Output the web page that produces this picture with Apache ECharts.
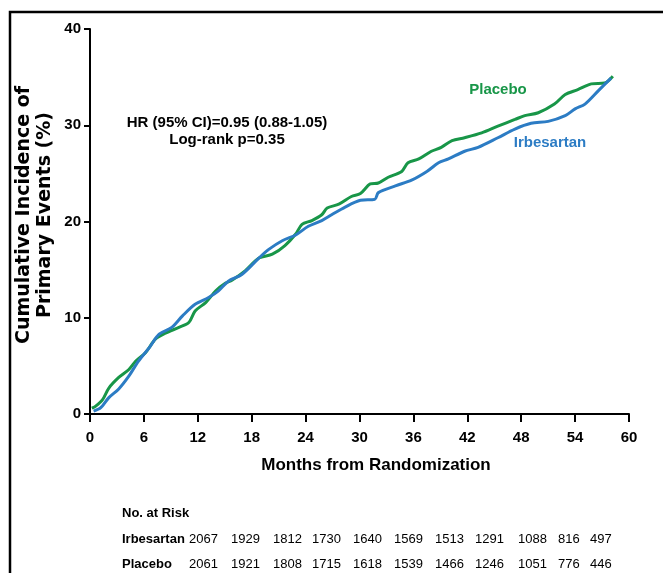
<!DOCTYPE html>
<html>
<head>
<meta charset="utf-8">
<script src="https://cdn.jsdelivr.net/npm/echarts@6/dist/echarts.min.js"></script>
<style>
  html, body { margin: 0; padding: 0; background: #fff; }
  #chart { width: 663px; height: 573px; }
</style>
</head>
<body>
<div id="chart"></div>
<script>
// x ticks
var monthTicks = [0, 6, 12, 18, 24, 30, 36, 42, 48, 54, 60];

// Placebo curve (months, cumulative %)
var placeboMonths = [0.2, 0.6, 1.4, 2.1, 3.2, 4.3, 5.1, 6.2, 7.3, 8.4, 9.9, 11, 11.7, 12.9, 14, 15.1, 15.8, 17.3, 18.8, 20.3, 21.7, 22.9, 23.6, 24.7, 25.8, 26.4, 27.7, 29.1, 30.1, 31.2, 32.1, 33.2, 34.7, 35.4, 36.6, 38, 39.1, 40.3, 41.7, 43.6, 45.4, 47.3, 48.4, 49.9, 51.7, 52.9, 54.3, 55.8, 57.3, 58.2];
var placeboValues = [0.6, 0.8, 1.5, 2.7, 3.8, 4.6, 5.5, 6.4, 7.8, 8.4, 9.0, 9.5, 10.7, 11.6, 12.8, 13.6, 13.9, 14.9, 16.2, 16.6, 17.5, 18.7, 19.7, 20.1, 20.7, 21.4, 21.8, 22.6, 22.9, 23.9, 24.0, 24.6, 25.2, 26.1, 26.5, 27.3, 27.7, 28.4, 28.7, 29.2, 29.9, 30.6, 31.0, 31.3, 32.2, 33.2, 33.7, 34.3, 34.4, 35.1];

// Irbesartan curve
var irbMonths = [0.4, 1.2, 2.1, 3.2, 4.3, 5.4, 6.6, 7.7, 9.1, 10.3, 11.7, 13.2, 14.3, 15.4, 16.9, 18.8, 19.9, 21.4, 22.9, 24.3, 25.8, 26.9, 28.4, 30.1, 31.7, 32.1, 34, 35.8, 37.5, 38.8, 39.9, 41.7, 43.2, 45.4, 47.3, 49.1, 51, 52.9, 54, 55.1, 56.6, 58];
var irbValues = [0.3, 0.65, 1.7, 2.6, 3.9, 5.5, 6.9, 8.3, 9.0, 10.2, 11.4, 12.1, 12.8, 13.8, 14.5, 16.2, 17.1, 18.0, 18.6, 19.5, 20.1, 20.7, 21.5, 22.2, 22.3, 23.0, 23.7, 24.3, 25.2, 26.1, 26.5, 27.3, 27.7, 28.7, 29.6, 30.2, 30.4, 31.0, 31.7, 32.2, 33.6, 34.9];

// numbers at risk
var irbRisk = [2067, 1929, 1812, 1730, 1640, 1569, 1513, 1291, 1088, 816, 497];
var placeboRisk = [2061, 1921, 1808, 1715, 1618, 1539, 1466, 1246, 1051, 776, 446];

var GREEN = '#189648';
var BLUE = '#2C7CC4';
var FONT = '"Liberation Sans", Arial, sans-serif';

function pairs(xs, ys) {
  return xs.map(function (x, i) { return [x, ys[i]]; });
}

var chart = echarts.init(document.getElementById('chart'));

// risk table
var riskCols = [189, 231, 273, 312, 353, 394, 435, 475, 518, 558, 590];
var graphics = [
  // frame
  {
    type: 'polyline',
    shape: { points: [[10, 573], [10, 12], [663, 12]] },
    style: { stroke: '#000', lineWidth: 2.5, fill: null }
  },
  {
    type: 'text', x: 35, y: 215, rotation: Math.PI / 2, origin: [0, 0],
    style: {
      text: 'Cumulative Incidence of\nPrimary Events (%)',
      font: 'bold 19px "DejaVu Sans", sans-serif',
      fill: '#000', align: 'center', verticalAlign: 'middle', lineHeight: 21
    }
  },
  {
    type: 'text', x: 376, y: 465,
    style: { text: 'Months from Randomization', font: 'bold 17px ' + FONT, fill: '#000', align: 'center', verticalAlign: 'middle' }
  },
  {
    type: 'text', x: 227, y: 131,
    style: { text: 'HR (95% CI)=0.95 (0.88-1.05)\nLog-rank p=0.35', font: 'bold 15px ' + FONT, fill: '#000', align: 'center', verticalAlign: 'middle', lineHeight: 17 }
  },
  {
    type: 'text', x: 498, y: 90,
    style: { text: 'Placebo', font: 'bold 15px ' + FONT, fill: GREEN, align: 'center', verticalAlign: 'middle' }
  },
  {
    type: 'text', x: 550, y: 143,
    style: { text: 'Irbesartan', font: 'bold 15px ' + FONT, fill: BLUE, align: 'center', verticalAlign: 'middle' }
  },
  {
    type: 'text', x: 122, y: 513,
    style: { text: 'No. at Risk', font: 'bold 13px ' + FONT, fill: '#000', verticalAlign: 'middle' }
  },
  {
    type: 'text', x: 122, y: 539,
    style: { text: 'Irbesartan', font: 'bold 13px ' + FONT, fill: '#000', verticalAlign: 'middle' }
  },
  {
    type: 'text', x: 122, y: 564,
    style: { text: 'Placebo', font: 'bold 13px ' + FONT, fill: '#000', verticalAlign: 'middle' }
  }
];
irbRisk.forEach(function (n, i) {
  graphics.push({ type: 'text', x: riskCols[i], y: 539,
    style: { text: String(n), font: '13px ' + FONT, fill: '#000', verticalAlign: 'middle' } });
});
placeboRisk.forEach(function (n, i) {
  graphics.push({ type: 'text', x: riskCols[i], y: 564,
    style: { text: String(n), font: '13px ' + FONT, fill: '#000', verticalAlign: 'middle' } });
});

var option = {
  animation: false,
  backgroundColor: '#fff',
  grid: { left: 90, top: 29, right: 34, bottom: 159 },
  xAxis: {
    type: 'value',
    min: 0,
    max: 60,
    interval: 6,
    axisLine: { show: true, onZero: false, lineStyle: { color: '#000', width: 2 } },
    axisTick: { show: true, length: 8, lineStyle: { color: '#000', width: 2 } },
    axisLabel: {
      margin: 16,
      color: '#000',
      fontWeight: 'bold',
      fontSize: 15,
      fontFamily: FONT,
      customValues: monthTicks
    },
    splitLine: { show: false }
  },
  yAxis: {
    type: 'value',
    min: 0,
    max: 40,
    interval: 10,
    axisLine: { show: true, lineStyle: { color: '#000', width: 2 } },
    axisTick: { show: true, length: 6, lineStyle: { color: '#000', width: 2 } },
    axisLabel: { margin: 9, color: '#000', fontWeight: 'bold', fontSize: 15, fontFamily: FONT },
    splitLine: { show: false }
  },
  series: [{
    name: 'Placebo',
    type: 'line',
    data: pairs(placeboMonths, placeboValues),
    showSymbol: false,
    smooth: 0.3,
    lineStyle: { color: GREEN, width: 3 },
    itemStyle: { color: GREEN },
    z: 2
  }, {
    name: 'Irbesartan',
    type: 'line',
    data: pairs(irbMonths, irbValues),
    showSymbol: false,
    smooth: 0.3,
    lineStyle: { color: BLUE, width: 3 },
    itemStyle: { color: BLUE },
    z: 3
  }],
  graphic: graphics
};
chart.setOption(option);
</script>
</body>
</html>
